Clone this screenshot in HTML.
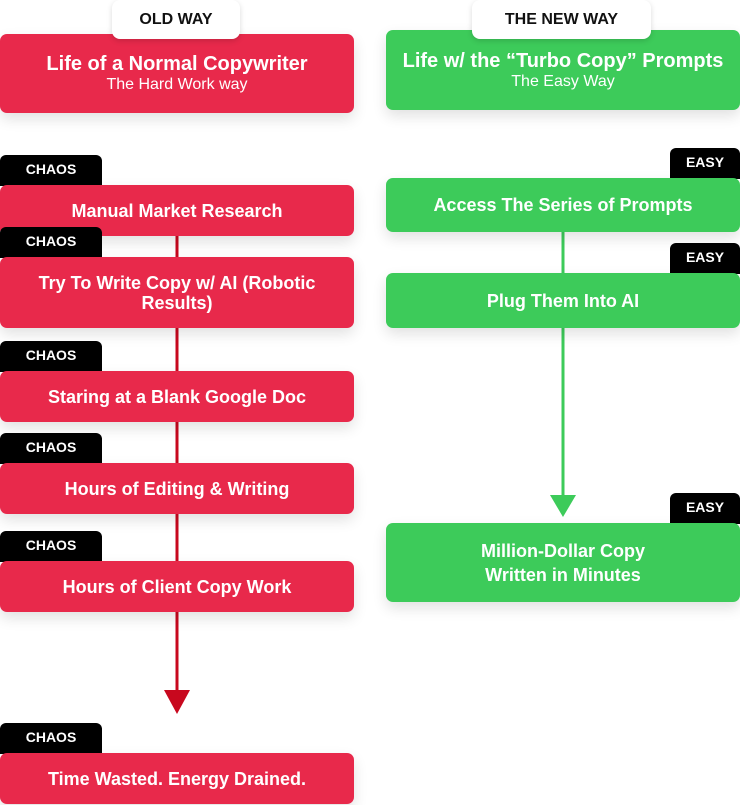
<!DOCTYPE html>
<html><head><style>
body{margin:0;width:740px;height:805px;background:#fff;position:relative;overflow:hidden;font-family:"Liberation Sans",sans-serif;}
.b{position:absolute;border-radius:7px;color:#fff;font-weight:bold;font-size:18px;display:flex;flex-direction:column;align-items:center;justify-content:center;text-align:center;line-height:20px;box-shadow:0 6px 14px rgba(0,0,0,0.12);}
.r{background:#E8294B;left:0;width:354px;}
.g{background:#3DCB5A;left:386px;width:354px;}
.t{position:absolute;background:#000;color:#fff;font-weight:bold;font-size:14px;height:31px;line-height:29px;text-align:center;border-radius:6px 6px 0 0;}
.c{left:0;width:102px;}
.e{left:670px;width:70px;}
.p{position:absolute;top:0;height:39px;background:#fff;border-radius:8px;box-shadow:0 2px 6px rgba(0,0,0,0.15);font-weight:bold;font-size:16px;line-height:39px;text-align:center;color:#111;z-index:2;}
.s{font-weight:normal;font-size:16px;line-height:18px;}
</style></head><body>
<svg style="position:absolute;left:0;top:0" width="740" height="805">
<line x1="177" y1="236" x2="177" y2="695" stroke="#C8081E" stroke-width="3"/>
<polygon points="164,690 190,690 177,714" fill="#C8081E"/>
<line x1="563" y1="232" x2="563" y2="500" stroke="#3DCB5A" stroke-width="3"/>
<polygon points="550,495 576,495 563,517" fill="#3DCB5A"/>
</svg>
<div class="p" style="left:112px;width:128px">OLD WAY</div>
<div class="p" style="left:472px;width:179px">THE NEW WAY</div>
<div class="b r" style="top:34px;height:79px;font-size:20px;line-height:23px">Life of a Normal Copywriter<span class="s">The Hard Work way</span></div>
<div class="b g" style="top:30px;height:80px;font-size:20px;line-height:23px">Life w/ the “Turbo Copy” Prompts<span class="s">The Easy Way</span></div>
<div class="t c" style="top:155px">CHAOS</div>
<div class="b r" style="top:185px;height:51px">Manual Market Research</div>
<div class="t c" style="top:227px">CHAOS</div>
<div class="b r" style="top:257px;height:71px">Try To Write Copy w/ AI (Robotic<br>Results)</div>
<div class="t c" style="top:341px">CHAOS</div>
<div class="b r" style="top:371px;height:51px">Staring at a Blank Google Doc</div>
<div class="t c" style="top:433px">CHAOS</div>
<div class="b r" style="top:463px;height:51px">Hours of Editing &amp; Writing</div>
<div class="t c" style="top:531px">CHAOS</div>
<div class="b r" style="top:561px;height:51px">Hours of Client Copy Work</div>
<div class="t c" style="top:723px">CHAOS</div>
<div class="b r" style="top:753px;height:51px">Time Wasted. Energy Drained.</div>
<div class="t e" style="top:148px">EASY</div>
<div class="b g" style="top:178px;height:54px">Access The Series of Prompts</div>
<div class="t e" style="top:243px">EASY</div>
<div class="b g" style="top:273px;height:55px">Plug Them Into AI</div>
<div class="t e" style="top:493px">EASY</div>
<div class="b g" style="top:523px;height:79px;line-height:24px">Million-Dollar Copy<br>Written in Minutes</div>
</body></html>
